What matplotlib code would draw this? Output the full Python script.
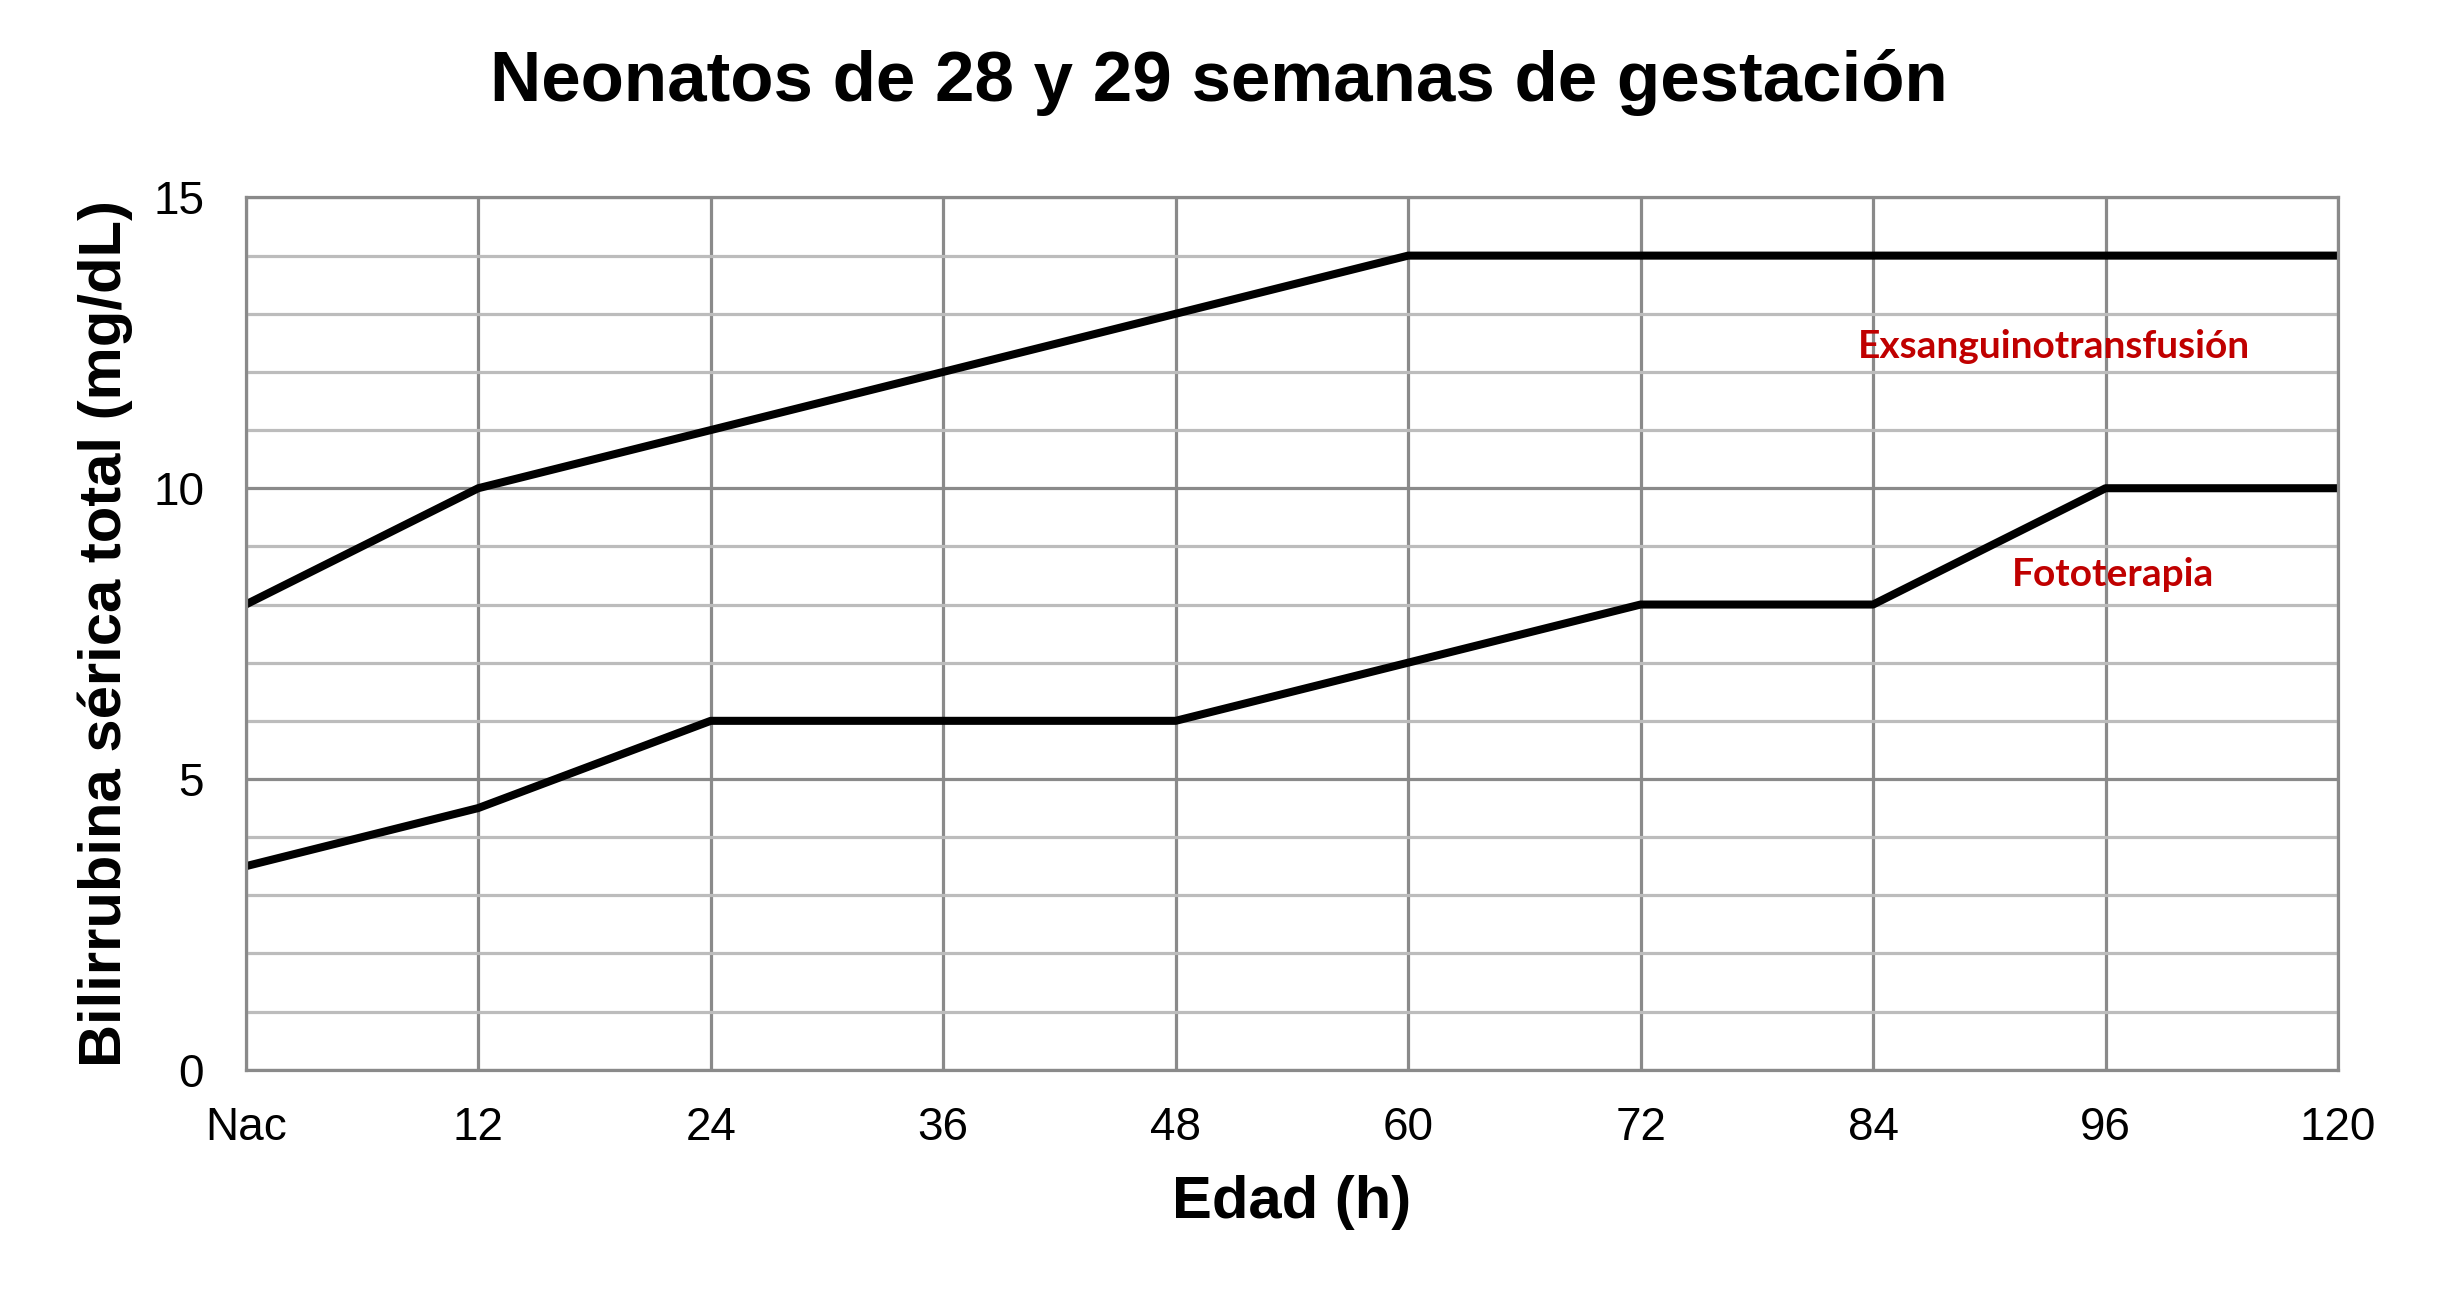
import numpy as np
import matplotlib
matplotlib.use("Agg")
import matplotlib.pyplot as plt
from matplotlib.ticker import MultipleLocator

plt.rcParams['font.family'] = ['Liberation Sans', 'DejaVu Sans']

# --- data ---
edad_labels = ["Nac", "12", "24", "36", "48", "60", "72", "84", "96", "120"]
exsanguino = [8, 10, 11, 12, 13, 14, 14, 14, 14, 14]
fototerapia = [3.5, 4.5, 6, 6, 6, 7, 8, 8, 10, 10]

x = np.arange(len(edad_labels))

fig = plt.figure(figsize=(24.38, 13.06), dpi=100)
ax = fig.add_axes([0.1008, 0.1809, 0.8582, 0.6679])

# grid: light every 1, darker at 5s and at each category
ax.yaxis.set_major_locator(MultipleLocator(5))
ax.yaxis.set_minor_locator(MultipleLocator(1))
ax.set_xticks(x)
ax.set_xticklabels(edad_labels)
ax.grid(which='minor', axis='y', color='#bcbcbc', lw=2.3)
ax.grid(which='major', axis='y', color='#8a8a8a', lw=2.3)
ax.grid(which='major', axis='x', color='#8a8a8a', lw=2.3)
ax.set_axisbelow(True)

ax.plot(x, exsanguino, color='black', lw=5.8, solid_capstyle='round',
        solid_joinstyle='round')
ax.plot(x, fototerapia, color='black', lw=5.8, solid_capstyle='round',
        solid_joinstyle='round')

ax.set_xlim(0, len(edad_labels) - 1)
ax.set_ylim(0, 15)

for s in ax.spines.values():
    s.set_color('#8a8a8a')
    s.set_linewidth(2.3)

ax.tick_params(which='both', length=0)
ax.tick_params(axis='y', labelsize=33, pad=30)
ax.tick_params(axis='x', labelsize=33, pad=26)

ax.text(7.78, 12.43, "Exsanguinotransfusión", color='#c00000', fontsize=28,
        fontweight='bold', family=['Lato', 'DejaVu Sans'], ha='center', va='center')
ax.text(8.03, 8.51, "Fototerapia", color='#c00000', fontsize=28,
        fontweight='bold', family=['Lato', 'DejaVu Sans'], ha='center', va='center')

ax.set_xlabel("Edad (h)", fontsize=43, fontweight='bold', va='center')
ax.xaxis.set_label_coords(0.5, -0.152)
ax.set_ylabel("Bilirrubina sérica total (mg/dL)", fontsize=43, fontweight='bold',
              va='center')
ax.yaxis.set_label_coords(-0.067, 0.5)
fig.text(0.5, 0.937, "Neonatos de 28 y 29 semanas de gestación", fontsize=51,
         fontweight='bold', ha='center', va='center')

fig.savefig("out.png", dpi=100, facecolor='white')
